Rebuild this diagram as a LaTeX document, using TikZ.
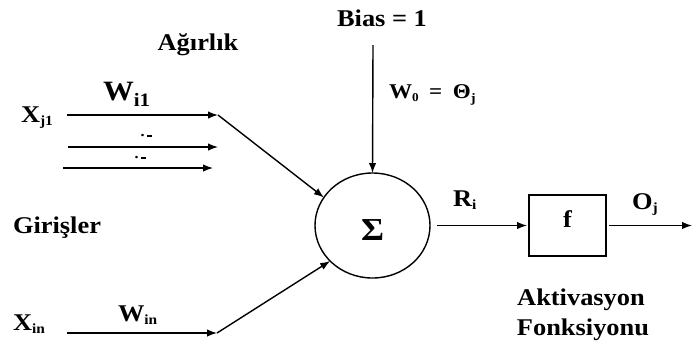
\documentclass[tikz,border=0pt]{standalone}
\usepackage{fontspec}
\setmainfont{Liberation Serif}[FakeStretch=1.1]
\usetikzlibrary{arrows.meta,shapes.geometric}
\newcommand{\lsub}[3]{\raisebox{-#2}{\fontsize{#1}{#1}\selectfont #3}}
\newcommand{\dotdash}{·\kern1.5pt\rule[0.22em]{5.5pt}{1.7pt}}
\tikzset{
  lbl/.style={font=\fontsize{24}{28}\selectfont\bfseries, inner sep=0pt, outer sep=0pt},
  conn/.style={line width=1.4pt, -{Latex[length=10pt,width=7.5pt]}},
  sumnode/.style={ellipse, draw, line width=1.4pt, minimum width=115pt, minimum height=105pt, inner sep=0pt, outer sep=0pt, font=\fontsize{32}{32}\selectfont\bfseries, text height=30pt, text depth=0pt},
  fbox/.style={rectangle, draw, line width=1.4pt, minimum width=77pt, minimum height=61pt, inner sep=0pt, outer sep=0pt, font=\fontsize{24}{24}\selectfont\bfseries, text height=16pt, text depth=13pt}
}
\begin{document}
\begin{tikzpicture}[x=1pt,y=-1pt]
\useasboundingbox (0,0) rectangle (692,349);

% main nodes
\node[sumnode] (sum) at (372.5,225.5) {Σ};
\node[fbox] (f) at (567.5,225.5) {f};

% coordinates
\coordinate (biasstart) at (373,45);
\coordinate (a1s) at (67,115);
\coordinate (a1e) at (218,115);
\coordinate (a2s) at (68,147);
\coordinate (a2e) at (218,147);
\coordinate (a3s) at (63,168);
\coordinate (a3e) at (213,168);
\coordinate (ans) at (67,333);
\coordinate (ane) at (217,333);
\coordinate (out) at (692,225.5);

% connectors
\draw[conn] (biasstart) -- (sum.north);
\draw[conn] (a1s) -- (a1e);
\draw[conn] (a2s) -- (a2e);
\draw[conn] (a3s) -- (a3e);
\draw[conn] (ans) -- (ane);
\draw[conn] (a1e) -- (sum.150);
\draw[conn] (ane) -- (sum.220);
\draw[conn, shorten <=7pt, shorten >=2pt] (sum.east) -- (f.west);
\draw[conn, shorten <=3pt] (f.east) -- (out);

% labels
\node[lbl, anchor=base] (agirlik) at (198,50) {Ağırlık};
\node[lbl, anchor=base] (bias) at (382,26) {Bias = 1};
\node[lbl, anchor=base west, font=\fontsize{21}{24}\selectfont\bfseries] (w0) at (389,98) {W\lsub{12}{3pt}{0}\enspace=\enspace Θ\lsub{13}{4pt}{j}};
\node[lbl, anchor=base west] (xj1) at (21,122) {X\lsub{14}{3pt}{j1}};
\node[lbl, anchor=base west, font=\fontsize{28}{32}\selectfont\bfseries] (wi1) at (103,100) {W\lsub{19}{6pt}{i1}};
\node[lbl, anchor=center, font=\fontsize{15}{15}\selectfont\bfseries] (dots1) at (146,137) {\dotdash};
\node[lbl, anchor=center, font=\fontsize{15}{15}\selectfont\bfseries] (dots2) at (140,159) {\dotdash};
\node[lbl, anchor=base west] (girisler) at (13,233) {Girişler};
\node[lbl, anchor=base west] (xin) at (13,330) {X\lsub{14}{3pt}{in}};
\node[lbl, anchor=base west] (win) at (118,321) {W\lsub{14}{3pt}{in}};
\node[lbl, anchor=base west] (ri) at (453,206) {R\lsub{14}{3pt}{i}};
\node[lbl, anchor=base west] (oj) at (632,209) {O\lsub{14}{3pt}{j}};
\node[lbl, anchor=base] (akt) at (581,305) {Aktivasyon};
\node[lbl, anchor=base] (fonk) at (583,335) {Fonksiyonu};
\end{tikzpicture}
\end{document}
